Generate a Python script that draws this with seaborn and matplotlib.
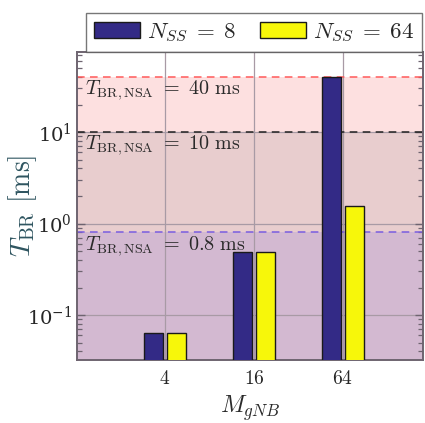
import matplotlib
matplotlib.use("Agg")
import matplotlib.pyplot as plt
import matplotlib.transforms as mtransforms
import seaborn as sns
import pandas as pd

# Données
categories = ["4", "16", "64"]
t_br_nss8 = [0.063, 0.49, 40.0]
t_br_nss64 = [0.063, 0.49, 1.55]
series = [r"$N_{SS}\;=\;8$", r"$N_{SS}\;=\;64$"]
seuils = [40.0, 10.0, 0.8]
seuils_labels = [r"$T_{\mathrm{BR,NSA}}\ =\ 40\ \mathrm{ms}$",
                 r"$T_{\mathrm{BR,NSA}}\ =\ 10\ \mathrm{ms}$",
                 r"$T_{\mathrm{BR,NSA}}\ =\ 0.8\ \mathrm{ms}$"]

df = pd.DataFrame({
    "M": categories * 2,
    "T": t_br_nss8 + t_br_nss64,
    "N": [series[0]] * 3 + [series[1]] * 3,
})

sns.set_style("white")
plt.rcParams["mathtext.fontset"] = "cm"
plt.rcParams["font.family"] = ["DejaVu Serif"]

fig = plt.figure(figsize=(4.25, 4.23), dpi=100)
ax = fig.add_axes([0.181, 0.149, 0.814, 0.728])

ymin, ymax = 0.0323, 75
# zones colorées
ax.axhspan(seuils[1], seuils[0], color="#fde0e0", zorder=0, lw=0)
ax.axhspan(seuils[2], seuils[1], color="#e8cdce", zorder=0, lw=0)
ax.axhspan(ymin, seuils[2], color="#d3b9d1", zorder=0, lw=0)

sns.barplot(data=df, x="M", y="T", hue="N", hue_order=series,
            palette=["#332a86", "#f7f70a"], width=0.52, gap=0.18,
            edgecolor="#1a1a1a", linewidth=1.0, saturation=1, ax=ax, zorder=3)

ax.set_yscale("log")
ax.set_ylim(ymin, ymax)
ax.set_xlim(-0.99, 2.9)

couleurs_seuils = ["#ff5a5a", "#222222", "#7a5de0"]
for s, c in zip(seuils, couleurs_seuils):
    ax.axhline(s, color=c, ls=(0, (5, 3.5)), lw=1.1, zorder=2)

trans = mtransforms.blended_transform_factory(ax.transAxes, ax.transData)
for s, lab in zip(seuils, seuils_labels):
    ax.annotate(lab, xy=(0.022, s), xycoords=trans, xytext=(0, -1),
                textcoords="offset points", va="top", ha="left",
                fontsize=14.5, color="#2a2a2a", zorder=4)

# grille
ax.grid(True, which="major", color="#a89aa5", lw=0.9, zorder=1)
ax.set_axisbelow(True)

ax.set_xticks([0, 1, 2])
ax.set_xticklabels([r"$4$", r"$16$", r"$64$"], fontsize=14)
ax.tick_params(axis="x", length=0, pad=7)
ax.tick_params(axis="y", which="major", direction="in", length=6, width=1,
               color="#6e6470", right=True, left=True, labelsize=14)
ax.tick_params(axis="y", which="minor", direction="in", length=3.5, width=0.9,
               color="#6e6470", right=True, left=True)

for sp in ax.spines.values():
    sp.set_color("#6e6470")
    sp.set_linewidth(1.4)
    sp.set_visible(True)

ax.set_xlabel(r"$M_{gNB}$", fontsize=17.5, color="#2a2a2a")
ax.xaxis.set_label_coords(0.5, -0.108)
ax.set_ylabel(r"$T_{\mathrm{BR}}\ [\mathrm{ms}]$", fontsize=20, color="#2f5560")
ax.yaxis.set_label_coords(-0.11, 0.5)

handles, labels = ax.get_legend_handles_labels()
leg = ax.legend(handles, labels, loc="lower left", ncol=2, mode="expand",
                bbox_to_anchor=(0.026, 1.0, 0.971, 0.13), fontsize=16.5,
                frameon=True, fancybox=False, edgecolor="#555555",
                handlelength=2.0, handleheight=0.65, borderaxespad=0,
                borderpad=0.35, handletextpad=0.3, columnspacing=1.0)
leg.get_frame().set_linewidth(1.0)

fig.savefig("out.png", dpi=100)
